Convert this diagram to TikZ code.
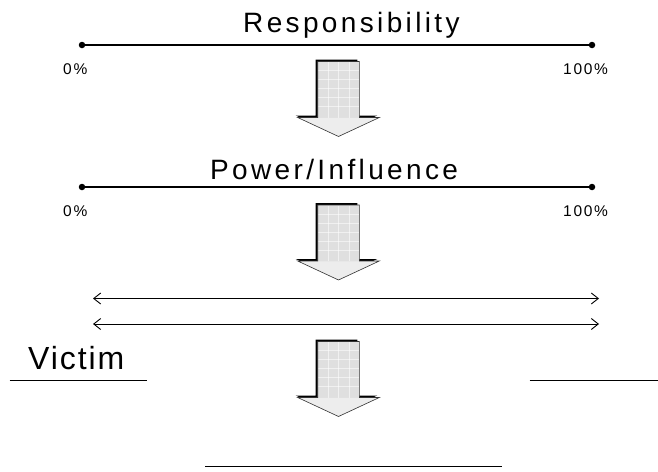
\documentclass[tikz,border=0pt]{standalone}
\usepackage{fontspec}
\setmainfont{Liberation Sans}
\usetikzlibrary{arrows.meta}

\tikzset{
  bigtext/.style={inner sep=0pt, anchor=base west, font=\fontsize{28}{30}\selectfont\addfontfeatures{LetterSpace=12}},
  victimtext/.style={inner sep=0pt, anchor=base west, font=\fontsize{32}{34}\selectfont\addfontfeatures{LetterSpace=6}},
  pcttext/.style={inner sep=0pt, anchor=base west, font=\fontsize{15.5}{17}\selectfont\addfontfeatures{LetterSpace=11}},
  scaleline/.style={line width=1.6pt},
  enddot/.style={circle, fill=black, inner sep=0pt, minimum size=6.5pt},
  rangearrow/.style={line width=0.9pt, {Straight Barb[length=7pt,width=11pt]}-{Straight Barb[length=7pt,width=11pt]}},
  blankline/.style={line width=1.4pt},
  downarrow/.pic={
    % dark offset copy gives the raised edge on the top and left
    \fill[black, shift={(-2,-2)}]
      (-20.8,0) -- (20.8,0) -- (20.8,56) -- (40.8,56) -- (0,75) -- (-40.8,56) -- (-20.8,56) -- cycle;
    \fill[gray!25]
      (-20.8,0) -- (20.8,0) -- (20.8,56) -- (40.8,56) -- (0,75) -- (-40.8,56) -- (-20.8,56) -- cycle;
    \begin{scope}[white, line width=0.6pt, opacity=0.55]
      \foreach \gx in {-10.4,0,10.4} \draw (\gx,0.5) -- (\gx,56);
      \foreach \gy in {9,18,27,36,45} \draw (-20.3,\gy) -- (20.3,\gy);
    \end{scope}
    \fill[gray!14] (-40.3,56.4) -- (40.3,56.4) -- (0,74.5) -- cycle;
    \draw[gray!40!black, line width=0.6pt]
      (-20.8,0) -- (20.8,0) -- (20.8,56) -- (40.8,56) -- (0,75) -- (-40.8,56) -- (-20.8,56) -- cycle;
  }
}

\begin{document}
\begin{tikzpicture}[x=1pt, y=-1pt]
  \useasboundingbox (0,0) rectangle (658,471);

  % Responsibility scale
  \node[bigtext] (resp) at (243,32) {Responsibility};
  \node[enddot] (r0) at (82,45) {};
  \node[enddot] (r1) at (592,45) {};
  \draw[scaleline] (r0.center) -- (r1.center);
  \node[pcttext] (r0lab) at (63,74) {0\%};
  \node[pcttext] (r1lab) at (563,74) {100\%};

  \pic at (338.5,61.5) {downarrow};

  % Power/Influence scale
  \node[bigtext] (power) at (210,179) {Power/Influence};
  \node[enddot] (p0) at (82,187) {};
  \node[enddot] (p1) at (592,187) {};
  \draw[scaleline] (p0.center) -- (p1.center);
  \node[pcttext] (p0lab) at (63,216) {0\%};
  \node[pcttext] (p1lab) at (563,216) {100\%};

  \pic at (338.5,205) {downarrow};

  % Two-headed range arrows
  \coordinate (a1l) at (93,298.5);
  \coordinate (a1r) at (599,298.5);
  \coordinate (a2l) at (93,324);
  \coordinate (a2r) at (599,324);
  \draw[rangearrow] (a1l) -- (a1r);
  \draw[rangearrow] (a2l) -- (a2r);

  % Victim and blanks
  \node[victimtext] (victim) at (28,369) {Victim};
  \coordinate (v0) at (9.5,380.5);
  \coordinate (v1) at (147,380.5);
  \draw[blankline] (v0) -- (v1);
  \coordinate (b0) at (529.5,380.5);
  \coordinate (b1) at (658,380.5);
  \draw[blankline] (b0) -- (b1);

  \pic at (338.5,341.5) {downarrow};

  \coordinate (c0) at (205,466.5);
  \coordinate (c1) at (502,466.5);
  \draw[blankline] (c0) -- (c1);
\end{tikzpicture}
\end{document}
